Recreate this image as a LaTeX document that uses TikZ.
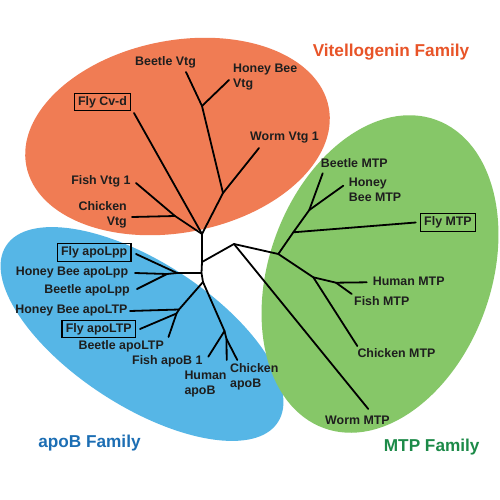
\documentclass[tikz,border=0pt]{standalone}
\usepackage{fontspec}
\setmainfont{Liberation Sans}
\definecolor{vtgfill}{RGB}{240,124,84}
\definecolor{apobfill}{RGB}{86,182,230}
\definecolor{mtpfill}{RGB}{134,199,104}
\definecolor{vtgtitle}{RGB}{232,84,40}
\definecolor{apobtitle}{RGB}{28,110,180}
\definecolor{mtptitle}{RGB}{28,138,72}
\definecolor{labeltext}{RGB}{30,30,30}
\begin{document}
\begin{tikzpicture}[x=1pt,y=-1pt,
 lbl/.style={font=\fontsize{12.4}{15}\selectfont\bfseries, text=labeltext, inner sep=0pt},
 boxlbl/.style={lbl, draw=black, line width=1.2pt, inner xsep=3.8pt, inner ysep=3pt, text height=9pt, text depth=2.6pt},
 fam/.style={font=\fontsize{17.2}{20}\selectfont\bfseries, inner sep=0pt},
 br/.style={line width=1.8pt, line cap=round, line join=round}
]
\useasboundingbox (0,0) rectangle (500,500);
\fill[white] (0,0) rectangle (500,500);
% family ellipses
\fill[vtgfill, shift={(177.5,136.5)}, rotate=11] (0,0) ellipse [x radius=154pt, y radius=96pt];
\fill[apobfill, shift={(142,334)}, rotate=-33] (0,0) ellipse [x radius=162pt, y radius=72pt];
\fill[mtpfill, shift={(380,274)}, rotate=70] (0,0) ellipse [x radius=164pt, y radius=111pt];
% family titles
\node[fam, text=vtgtitle] (tvtg) at (391,52) {Vitellogenin Family};
\node[fam, text=mtptitle] (tmtp) at (431.7,447.3) {MTP Family};
\node[fam, text=apobtitle] (tapob) at (89.5,442.7) {apoB Family};
% tree coordinates
\coordinate (v0) at (202,234);
\coordinate (vfc) at (175,216);
\coordinate (vw) at (223,193);
\coordinate (vbh) at (202,106);
\coordinate (tFishVtg) at (136,183);
\coordinate (tChickVtg) at (132,217);
\coordinate (tCvd) at (134,113);
\coordinate (tWormVtg) at (259,148);
\coordinate (tBeetleVtg) at (186,72);
\coordinate (tHoneyVtg) at (229,80);
\coordinate (c1) at (202,262);
\coordinate (c2) at (201.5,273);
\coordinate (c3) at (203,282);
\coordinate (lpp) at (177,273);
\coordinate (lppE) at (167,274);
\coordinate (tFlyLpp) at (136,254);
\coordinate (tHoneyLpp) at (135,273);
\coordinate (tBeetleLpp) at (137,289);
\coordinate (ltp) at (179,309.5);
\coordinate (ltpB) at (176.5,313.5);
\coordinate (tHoneyLtp) at (130,311);
\coordinate (tFlyLtp) at (140,329);
\coordinate (tBeetleLtp) at (168.5,337);
\coordinate (bj) at (224.5,331);
\coordinate (bjD) at (226.5,339);
\coordinate (tFishB) at (208.3,356.7);
\coordinate (tHumanB) at (226.7,360);
\coordinate (tChickB) at (237.3,360);
\coordinate (m0) at (234,244);
\coordinate (m1) at (278.3,254);
\coordinate (m2) at (293.3,232.3);
\coordinate (m3) at (309.3,210);
\coordinate (m4) at (313.3,277.3);
\coordinate (m5) at (336,282.7);
\coordinate (tWormM) at (368.3,409);
\coordinate (tFlyM) at (415.7,222.5);
\coordinate (tBeetleM) at (322.7,173.3);
\coordinate (tHoneyM) at (343.3,185.7);
\coordinate (tChickM) at (357.3,346);
\coordinate (tHumanM) at (366.7,282.3);
\coordinate (tFishM) at (351.7,294);
% branches
\draw[br] (tCvd) -- (v0);
\draw[br] (tFishVtg) -- (vfc) -- (v0);
\draw[br] (tChickVtg) -- (vfc);
\draw[br] (v0) -- (vw) -- (vbh) -- (tBeetleVtg);
\draw[br] (vbh) -- (tHoneyVtg);
\draw[br] (vw) -- (tWormVtg);
\draw[br] (v0) -- (c1) -- (c2) -- (c3);
\draw[br] (c1) -- (m0) -- (m1) -- (m2) -- (m3) -- (tBeetleM);
\draw[br] (m3) -- (tHoneyM);
\draw[br] (m2) -- (tFlyM);
\draw[br] (m1) -- (m4) -- (tChickM);
\draw[br] (m4) -- (m5) -- (tHumanM);
\draw[br] (m5) -- (tFishM);
\draw[br] (m0) -- (tWormM);
\draw[br] (c2) -- (lpp) -- (tFlyLpp);
\draw[br] (lpp) -- (lppE) -- (tHoneyLpp);
\draw[br] (lppE) -- (tBeetleLpp);
\draw[br] (c3) -- (ltp) -- (tHoneyLtp);
\draw[br] (ltp) -- (ltpB) -- (tFlyLtp);
\draw[br] (ltpB) -- (tBeetleLtp);
\draw[br] (c3) -- (bj) -- (tFishB);
\draw[br] (bj) -- (bjD) -- (tHumanB);
\draw[br] (bjD) -- (tChickB);
% labels: Vitellogenin
\node[lbl, anchor=west] (lBeetleVtg) at (135,62) {Beetle Vtg};
\node[lbl, anchor=west, align=left] (lHoneyVtg) at (233,77) {Honey Bee\\Vtg};
\node[boxlbl] (lCvd) at (102.5,102) {Fly Cv-d};
\node[lbl, anchor=west] (lWormVtg) at (250,138) {Worm Vtg 1};
\node[lbl, anchor=east] (lFishVtg) at (130.7,181) {Fish Vtg 1};
\node[lbl, anchor=east, align=right] (lChickVtg) at (127,215) {Chicken\\Vtg};
% labels: MTP
\node[lbl, anchor=west] (lBeetleM) at (320.7,163.3) {Beetle MTP};
\node[lbl, anchor=west, align=left] (lHoneyM) at (348.7,190) {Honey\\Bee MTP};
\node[boxlbl] (lFlyM) at (448,222.5) {Fly MTP};
\node[lbl, anchor=west] (lHumanM) at (372.7,281.7) {Human MTP};
\node[lbl, anchor=west] (lFishM) at (354,301) {Fish MTP};
\node[lbl, anchor=west] (lChickM) at (357.3,353.3) {Chicken MTP};
\node[lbl, anchor=west] (lWormM) at (325,420) {Worm MTP};
% labels: apoB
\node[boxlbl] (lFlyLpp) at (94.2,252.5) {Fly apoLpp};
\node[lbl, anchor=east] (lHoneyLpp) at (128.3,272.3) {Honey Bee apoLpp};
\node[lbl, anchor=east] (lBeetleLpp) at (130,290.7) {Beetle apoLpp};
\node[lbl, anchor=east] (lHoneyLtp) at (127.7,310.7) {Honey Bee apoLTP};
\node[boxlbl] (lFlyLtp) at (98.8,329) {Fly apoLTP};
\node[lbl, anchor=east] (lBeetleLtp) at (164,346.7) {Beetle apoLTP};
\node[lbl, anchor=east] (lFishB) at (202.7,361) {Fish apoB 1};
\node[lbl, anchor=west, align=left] (lHumanB) at (184.3,383.7) {Human\\apoB};
\node[lbl, anchor=west, align=left] (lChickB) at (230,376.7) {Chicken\\apoB};
\end{tikzpicture}
\end{document}
